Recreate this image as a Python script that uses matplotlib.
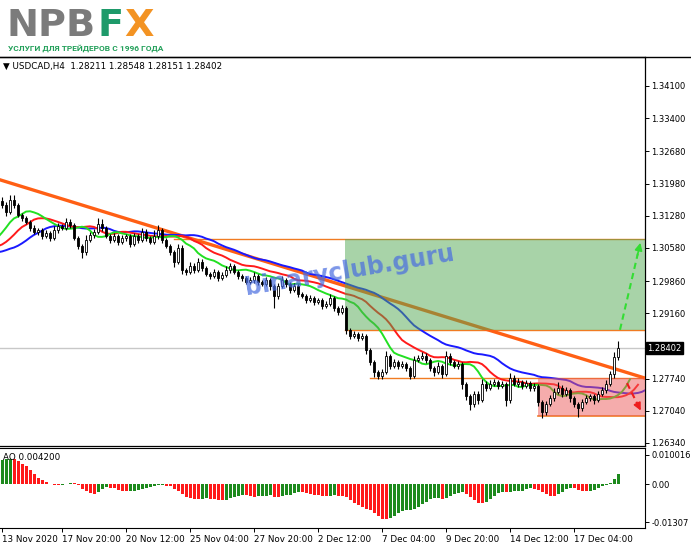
import numpy as np
import pandas as pd
import matplotlib
matplotlib.use("Agg")
import matplotlib.pyplot as plt
from matplotlib.patches import Rectangle
from matplotlib.lines import Line2D
import matplotlib.transforms as mtransforms

# USDCAD H4 - closes before the first visible bar (only used to warm up the indicators)
warmup_close = [1.3090, 1.3070, 1.3060, 1.3050, 1.3040, 1.3030, 1.3035, 1.3025, 1.3030, 1.3020, 1.3010, 1.3015,
                1.3005, 1.2995, 1.3000, 1.3020, 1.3035, 1.3045, 1.3040, 1.3030, 1.3025, 1.3035, 1.3045, 1.3050,
                1.3055, 1.3050, 1.3045, 1.3055, 1.3060, 1.3050, 1.3065, 1.3075,
                1.3070, 1.3085, 1.3095, 1.3090, 1.3110, 1.3130, 1.3145, 1.3160]

# visible bars, open = previous close
close = [1.3151, 1.3136, 1.3162, 1.3151, 1.3130, 1.3123, 1.3114, 1.3101, 1.3093, 1.3097,
         1.3084, 1.3090, 1.3080, 1.3097, 1.3106, 1.3101, 1.3114, 1.3108, 1.3080, 1.3062,
         1.3049, 1.3075, 1.3086, 1.3093, 1.3110, 1.3101, 1.3084, 1.3075, 1.3084, 1.3071,
         1.3080, 1.3084, 1.3067, 1.3084, 1.3075, 1.3093, 1.3080, 1.3071, 1.3084, 1.3097,
         1.3075, 1.3062, 1.3049, 1.3027, 1.3058, 1.3010, 1.3006, 1.3019, 1.3010, 1.3027,
         1.3014, 1.3001, 1.2997, 1.3006, 1.2993, 1.2999, 1.3010, 1.3019, 1.3006, 1.2997,
         1.2993, 1.2984, 1.2988, 1.2997, 1.2984, 1.2980, 1.2988, 1.2975, 1.2953, 1.2975,
         1.2988, 1.2980, 1.2967, 1.2975, 1.2958, 1.2953, 1.2945, 1.2949, 1.2940, 1.2945,
         1.2932, 1.2936, 1.2949, 1.2927, 1.2919, 1.2927, 1.2880, 1.2867, 1.2871, 1.2862,
         1.2867, 1.2836, 1.2810, 1.2788, 1.2780, 1.2788, 1.2823, 1.2801, 1.2810, 1.2801,
         1.2806, 1.2797, 1.2780, 1.2814, 1.2819, 1.2823, 1.2814, 1.2797, 1.2788, 1.2801,
         1.2784, 1.2823, 1.2810, 1.2801, 1.2806, 1.2762, 1.2736, 1.2719, 1.2740, 1.2727,
         1.2762, 1.2753, 1.2762, 1.2767, 1.2758, 1.2762, 1.2727, 1.2775, 1.2762, 1.2767,
         1.2758, 1.2764, 1.2753, 1.2758, 1.2723, 1.2701, 1.2719, 1.2732, 1.2745, 1.2753,
         1.2740, 1.2749, 1.2732, 1.2719, 1.2710, 1.2723, 1.2732, 1.2736, 1.2727, 1.2740,
         1.2749, 1.2762, 1.2784, 1.28211, 1.28402]

# wick lengths in pips above / below the body
up_wick = [8, 6, 12, 10, 4, 4, 5, 4, 6, 5,
           4, 6, 4, 8, 6, 5, 8, 6, 4, 4,
           4, 10, 6, 6, 14, 10, 4, 5, 6, 4,
           6, 5, 4, 6, 5, 8, 6, 4, 14, 10,
           4, 4, 5, 4, 8, 6, 4, 8, 6, 10,
           6, 4, 4, 6, 4, 6, 8, 6, 4, 4,
           4, 4, 6, 8, 4, 4, 6, 4, 4, 6,
           8, 4, 4, 6, 4, 4, 4, 6, 4, 5,
           4, 6, 8, 4, 4, 6, 4, 4, 6, 4,
           6, 4, 4, 4, 4, 6, 10, 4, 6, 4,
           6, 4, 4, 8, 6, 8, 6, 4, 4, 8,
           4, 10, 6, 4, 6, 4, 4, 4, 8, 6,
           10, 6, 8, 6, 4, 6, 4, 12, 6, 8,
           4, 6, 4, 6, 4, 4, 6, 6, 8, 14,
           6, 6, 4, 4, 4, 6, 6, 4, 4, 6,
           6, 8, 6, 10, 15]
dn_wick = [6, 8, 4, 6, 4, 6, 4, 6, 4, 6,
           6, 4, 8, 4, 6, 4, 4, 6, 4, 6,
           14, 6, 4, 6, 4, 6, 4, 6, 4, 6,
           4, 6, 8, 4, 6, 4, 6, 4, 4, 6,
           6, 4, 6, 10, 4, 8, 6, 4, 6, 4,
           6, 4, 6, 4, 6, 4, 4, 6, 4, 6,
           6, 4, 4, 6, 6, 4, 4, 8, 25, 6,
           4, 6, 6, 4, 6, 4, 6, 4, 6, 4,
           6, 4, 4, 6, 6, 4, 10, 6, 4, 6,
           4, 8, 6, 10, 8, 6, 4, 6, 4, 6,
           4, 6, 8, 4, 4, 4, 6, 6, 8, 4,
           8, 4, 6, 4, 6, 10, 8, 14, 6, 8,
           4, 6, 4, 4, 6, 4, 12, 6, 4, 6,
           6, 4, 6, 6, 8, 12, 6, 4, 6, 4,
           6, 4, 8, 6, 20, 6, 4, 6, 8, 4,
           4, 6, 4, 8, 6]

price_ticks = [1.34100, 1.33400, 1.32680, 1.31980, 1.31280, 1.30580, 1.29860, 1.29160, 1.27740, 1.27040, 1.26340]
date_ticks = [0, 15, 31, 47, 63, 79, 95, 111, 127, 143]
date_labels = ["13 Nov 2020", "17 Nov 20:00", "20 Nov 12:00", "25 Nov 04:00", "27 Nov 20:00",
               "2 Dec 12:00", "7 Dec 04:00", "9 Dec 20:00", "14 Dec 12:00", "17 Dec 04:00"]
last_price = 1.28402
ao_caption = "AO 0.004200"

# drawn objects (bar index / price)
trend_start = (-0.5, 1.3206)
trend_end = (160.75, 1.2775)
buy_zone = (85.75, 1.2880, 1.3078)      # left bar, bottom, top
buy_line_start = 43.0
sell_zone = (134.0, 1.2693, 1.2775)
sell_line_start = 92.0
up_arrow = ((154.5, 1.2880), (159.75, 1.3075))
down_arrow = ((156.25, 1.2764), (160.0, 1.2699))

W, H = 691, 549
fig = plt.figure(figsize=(W / 100, H / 100), dpi=100)
fig.patch.set_facecolor("white")

ax = fig.add_axes([0, 1 - 446 / H, 645 / W, (446 - 57) / H])
ax2 = fig.add_axes([0, 1 - 528 / H, 645 / W, (528 - 448) / H])

c = np.array(close)
o = np.r_[warmup_close[-1], c[:-1]]
hi = np.maximum(o, c) + np.array(up_wick) * 1e-4
lo = np.minimum(o, c) - np.array(dn_wick) * 1e-4
n = len(c)
x = np.arange(n)

med = pd.Series(np.r_[warmup_close, (hi + lo) / 2])
x_all = np.arange(-len(warmup_close), n)

# Alligator (SMMA of median price, shifted forward)
jaw = med.ewm(alpha=1 / 13, adjust=False).mean()
teeth = med.ewm(alpha=1 / 8, adjust=False).mean()
lips = med.ewm(alpha=1 / 5, adjust=False).mean()

# Awesome oscillator
ao_all = (med.rolling(5).mean() - med.rolling(34).mean()).values
ao = ao_all[len(warmup_close):]
ao_prev = ao_all[len(warmup_close) - 1:-1]
ao_cols = np.where(ao > ao_prev, "#1d8a1d", "#ff1a1a")

# main pane
ax.axhline(last_price, color="#c8c8c8", lw=1, zorder=1)
ax.plot([buy_line_start, 170], [buy_zone[2]] * 2, color="#f07b22", lw=1, zorder=2)
ax.plot([buy_zone[0], 170], [buy_zone[1]] * 2, color="#f07b22", lw=1, zorder=2)
ax.plot([sell_line_start, 170], [sell_zone[2]] * 2, color="#f07b22", lw=1, zorder=2)
ax.plot([sell_zone[0], 170], [sell_zone[1]] * 2, color="#f07b22", lw=1.2, zorder=2)
ax.plot([trend_start[0], trend_end[0]], [trend_start[1], trend_end[1]], color="#ff5f14", lw=2.4, zorder=3)

ax.plot(x_all + 8, jaw, color="#1a1aff", lw=1.4, zorder=4)
ax.plot(x_all + 5, teeth, color="#ff1a1a", lw=1.4, zorder=4)
ax.plot(x_all + 3, lips, color="#22e022", lw=1.4, zorder=4)

ax.add_patch(Rectangle((buy_zone[0], buy_zone[1]), 200, buy_zone[2] - buy_zone[1],
                       facecolor="#52a852", alpha=0.5, edgecolor="none", zorder=5))
ax.add_patch(Rectangle((sell_zone[0], sell_zone[1]), 200, sell_zone[2] - sell_zone[1],
                       facecolor="#ec5a5a", alpha=0.5, edgecolor="none", zorder=5))

# candles
ax.vlines(x, lo, hi, color="black", lw=0.8, zorder=6)
body = np.maximum(np.abs(c - o), 0.00004)
ax.bar(x, body, bottom=np.minimum(o, c), width=0.7,
       color=np.where(c >= o, "white", "black"), edgecolor="black", linewidth=0.6, zorder=7)

ax.text(87, 1.3008, "binaryclub.guru", rotation=9.5, ha="center", va="center", fontsize=17,
        fontweight="bold", color="#4a6ee0", alpha=0.72, zorder=8)

# arrows
(ux0, uy0), (ux1, uy1) = up_arrow
ax.plot([ux0, ux0 + (ux1 - ux0) * 0.85], [uy0, uy0 + (uy1 - uy0) * 0.85], color="#33dd33", lw=1.5, ls=(0, (3, 2)), zorder=9)
ax.annotate("", xy=(ux1, uy1), xytext=(ux0 + (ux1 - ux0) * 0.8, uy0 + (uy1 - uy0) * 0.8),
            arrowprops=dict(arrowstyle="-|>", color="#33dd33", lw=1.2, mutation_scale=11), zorder=9)
(dx0, dy0), (dx1, dy1) = down_arrow
ax.plot([dx0, dx0 + (dx1 - dx0) * 0.75], [dy0, dy0 + (dy1 - dy0) * 0.75], color="#ee1c1c", lw=1.5, ls=(0, (3, 2)), zorder=9)
ax.annotate("", xy=(dx1, dy1), xytext=(dx0 + (dx1 - dx0) * 0.7, dy0 + (dy1 - dy0) * 0.7),
            arrowprops=dict(arrowstyle="-|>", color="#ee1c1c", lw=1.2, mutation_scale=11), zorder=9)

ax.set_xlim(-0.5, 160.75)
ax.set_ylim(1.26274, 1.34730)
ax.set_xticks([])
ax.yaxis.tick_right()
ax.set_yticks(price_ticks)
ax.set_yticklabels([f"{v:.5f}" for v in price_ticks])
ax.tick_params(axis="y", direction="out", length=3, width=0.7, labelsize=6.0, pad=1.5)
ax.spines["left"].set_visible(False)
for s in ["top", "right", "bottom"]:
    ax.spines[s].set_linewidth(0.9)

blend = mtransforms.blended_transform_factory(ax.transAxes, ax.transData)
ax.text(1.004, last_price, f"{last_price:.5f}", transform=blend, ha="left", va="center", fontsize=6.0,
        color="white", bbox=dict(boxstyle="square,pad=0.2", facecolor="black", edgecolor="black"), zorder=10)

# oscillator pane
ax2.bar(x, ao, width=0.75, color=ao_cols, linewidth=0)
ax2.set_xlim(-0.5, 160.75)
ax2.set_ylim(-0.0151, 0.0124)
ax2.yaxis.tick_right()
ax2.set_yticks([0.010016, 0.0, -0.01307])
ax2.set_yticklabels(["0.010016", "0.00", "-0.01307"])
ax2.tick_params(axis="y", direction="out", length=3, width=0.7, labelsize=6.0, pad=1.5)
ax2.set_xticks(date_ticks)
ax2.set_xticklabels(date_labels)
ax2.tick_params(axis="x", direction="out", length=3, width=0.7, labelsize=6.3, pad=2)
for lbl in ax2.get_xticklabels():
    lbl.set_ha("left")
ax2.spines["left"].set_visible(False)
ax2.text(0.005, 0.88, ao_caption, transform=ax2.transAxes, fontsize=6.3, va="center")

# header
fig.add_artist(Line2D([0, 1], [1 - 57 / H] * 2, color="black", lw=1))
fig.text(3 / W, 1 - 66 / H, "\u25bc USDCAD,H4  1.28211 1.28548 1.28151 1.28402", fontsize=6.3, va="center")
fig.text(7 / W, 1 - 36 / H, "NPB", fontsize=27.5, fontweight="bold", color="#7b7b7b", va="baseline")
fig.text(98 / W, 1 - 36 / H, "F", fontsize=27.5, fontweight="bold", color="#1e9a6a", va="baseline")
fig.text(124 / W, 1 - 36 / H, "X", fontsize=27.5, fontweight="bold", color="#f39323", va="baseline")
fig.text(8 / W, 1 - 51 / H, "УСЛУГИ ДЛЯ ТРЕЙДЕРОВ С 1996 ГОДА", fontsize=6.0, fontweight="bold",
         color="#23a05a", va="baseline", family=["Roboto", "DejaVu Sans"])

fig.savefig("out.png", dpi=100)
